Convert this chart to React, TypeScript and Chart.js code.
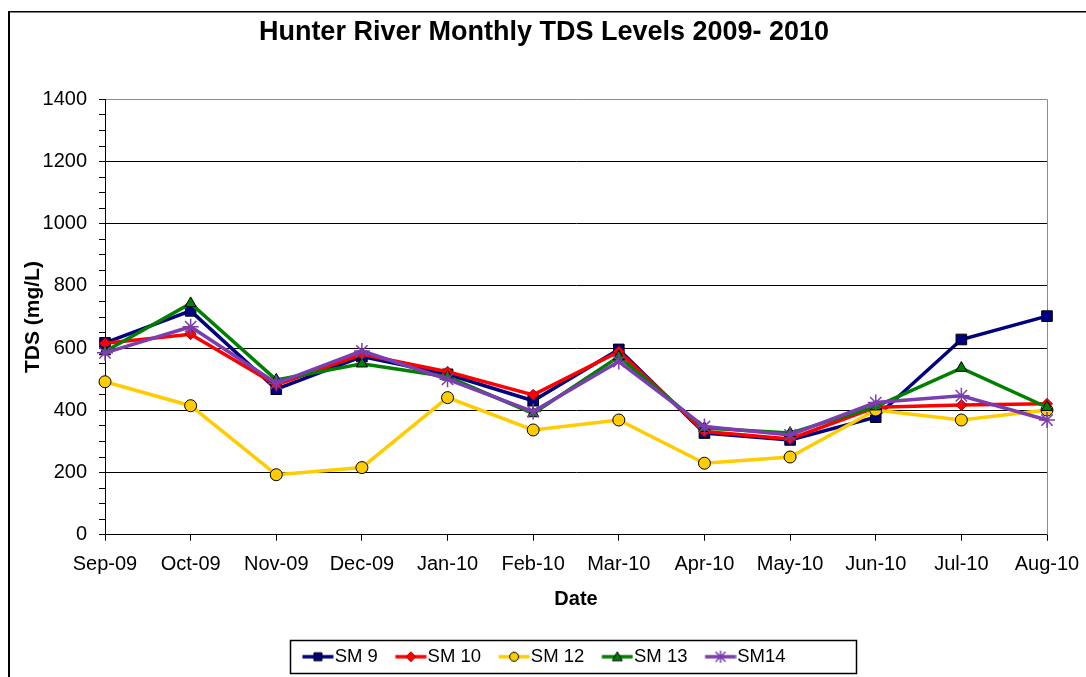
import React, { useEffect, useRef } from 'react';
import { Chart, registerables } from 'chart.js';

Chart.register(...registerables);

const categories = ['Sep-09', 'Oct-09', 'Nov-09', 'Dec-09', 'Jan-10', 'Feb-10', 'Mar-10', 'Apr-10', 'May-10', 'Jun-10', 'Jul-10', 'Aug-10'];
const sm9 = [617, 720, 468, 573, 516, 431, 596, 327, 305, 378, 628, 703];
const sm10 = [616, 645, 482, 580, 524, 450, 589, 332, 308, 410, 417, 421];
const sm12 = [492, 415, 193, 216, 441, 337, 369, 230, 250, 401, 369, 401];
const sm13 = [589, 744, 498, 550, 508, 390, 573, 343, 327, 412, 536, 410];
const sm14 = [585, 669, 487, 591, 500, 396, 557, 348, 321, 425, 447, 369];
const seriesNames = ['SM 9', 'SM 10', 'SM 12', 'SM 13', 'SM14'];

const yMin = 0;
const yMax = 1400;
const yMajorStep = 200;
const yMinorStep = 50;

const chartTitle = 'Hunter River Monthly TDS Levels 2009- 2010';
const yTitle = 'TDS (mg/L)';
const xTitle = 'Date';

const FONT = "'Liberation Sans', Arial, sans-serif";

type Kind = 'rect' | 'rectRot' | 'circle' | 'triangle' | 'star';

function makeIcon(kind: Kind, color: string, fill: string, stroke: string): HTMLCanvasElement {
  const c = document.createElement('canvas');
  c.width = 40;
  c.height = 16;
  const g = c.getContext('2d')!;
  g.strokeStyle = color;
  g.lineWidth = 3.5;
  g.beginPath();
  g.moveTo(8.5, 8);
  g.lineTo(39.5, 8);
  g.stroke();
  const cx = 24;
  const cy = 8;
  g.fillStyle = fill;
  g.strokeStyle = stroke;
  g.lineWidth = 1;
  g.beginPath();
  if (kind === 'rect') {
    g.rect(cx - 4, cy - 4, 8, 8);
    g.fill();
    g.stroke();
  } else if (kind === 'rectRot') {
    g.moveTo(cx - 5, cy);
    g.lineTo(cx, cy - 5);
    g.lineTo(cx + 5, cy);
    g.lineTo(cx, cy + 5);
    g.closePath();
    g.fill();
    g.stroke();
  } else if (kind === 'circle') {
    g.arc(cx, cy, 4.5, 0, Math.PI * 2);
    g.fill();
    g.stroke();
  } else if (kind === 'triangle') {
    g.moveTo(cx, cy - 5);
    g.lineTo(cx + 5, cy + 4);
    g.lineTo(cx - 5, cy + 4);
    g.closePath();
    g.fill();
    g.stroke();
  } else {
    g.lineWidth = 1.5;
    g.moveTo(cx, cy - 6);
    g.lineTo(cx, cy + 6);
    g.moveTo(cx - 5, cy - 5);
    g.lineTo(cx + 5, cy + 5);
    g.moveTo(cx + 5, cy - 5);
    g.lineTo(cx - 5, cy + 5);
    g.stroke();
  }
  return c;
}

const framePlugin = {
  id: 'frame',
  beforeDraw(chart: any) {
    const ctx = chart.ctx;
    ctx.save();
    ctx.fillStyle = '#000';
    ctx.fillRect(0, 3, 2, chart.height);
    ctx.fillRect(0, 3, chart.width, 1.5);
    ctx.restore();
  },
};

const plotBorderPlugin = {
  id: 'plotBorder',
  beforeDatasetsDraw(chart: any) {
    const { ctx, chartArea } = chart;
    ctx.save();
    ctx.strokeStyle = '#8c8c8c';
    ctx.lineWidth = 1;
    ctx.beginPath();
    const x = Math.round(chartArea.right) + 0.5;
    ctx.moveTo(x, chartArea.top);
    ctx.lineTo(x, chartArea.bottom);
    ctx.stroke();
    ctx.restore();
  },
};

const legendBoxPlugin = {
  id: 'legendBox',
  afterDraw(chart: any) {
    const hb = chart.legend && chart.legend.legendHitBoxes;
    if (!hb || !hb.length) return;
    const first = hb[0];
    const last = hb[hb.length - 1];
    const left = Math.round(first.left - 12) + 0.5;
    const right = Math.round(last.left + last.width + 70) + 0.5;
    const cy = first.top + first.height / 2;
    const top = Math.round(cy - 16.5) + 0.5;
    const ctx = chart.ctx;
    ctx.save();
    ctx.strokeStyle = '#000';
    ctx.lineWidth = 1.5;
    ctx.strokeRect(left, top, right - left, 33);
    ctx.restore();
  },
};

export default function App() {
  const ref = useRef<HTMLCanvasElement>(null);

  useEffect(() => {
    const canvas = ref.current;
    if (!canvas) return;
    const icons = [
      makeIcon('rect', '#000080', '#000080', '#000000'),
      makeIcon('rectRot', '#FF0000', '#FF0000', '#B00000'),
      makeIcon('circle', '#FFCC00', '#FFCC00', '#000000'),
      makeIcon('triangle', '#008000', '#008000', '#000000'),
      makeIcon('star', '#7B3DAF', '#7B3DAF', '#7B3DAF'),
    ];
    const common = {
      borderWidth: 3.5,
      tension: 0,
      pointBorderWidth: 1,
      pointHoverRadius: 0,
      fill: false,
    };
    const chart = new Chart(canvas, {
      type: 'line',
      data: {
        labels: categories,
        datasets: [
          { ...common, label: seriesNames[0], data: sm9, borderColor: '#000080', backgroundColor: '#000080', pointStyle: 'rect', pointRadius: 7.5, pointBackgroundColor: '#000080', pointBorderColor: '#000000', order: 5 },
          { ...common, label: seriesNames[1], data: sm10, borderColor: '#FF0000', backgroundColor: '#FF0000', pointStyle: 'rectRot', pointRadius: 5.5, pointBackgroundColor: '#FF0000', pointBorderColor: '#B00000', order: 4 },
          { ...common, label: seriesNames[2], data: sm12, borderColor: '#FFCC00', backgroundColor: '#FFCC00', pointStyle: 'circle', pointRadius: 6, pointBackgroundColor: '#FFCC00', pointBorderColor: '#000000', order: 3 },
          { ...common, label: seriesNames[3], data: sm13, borderColor: '#008000', backgroundColor: '#008000', pointStyle: 'triangle', pointRadius: 6.5, pointBackgroundColor: '#008000', pointBorderColor: '#000000', order: 2 },
          { ...common, label: seriesNames[4], data: sm14, borderColor: '#7B3DAF', backgroundColor: '#7B3DAF', pointStyle: 'star', pointRadius: 8, pointBackgroundColor: '#7B3DAF', pointBorderColor: '#7B3DAF', pointBorderWidth: 1.5, order: 1 },
        ],
      },
      options: {
        responsive: false,
        animation: false,
        devicePixelRatio: 1,
        events: [],
        layout: { padding: { left: 0, right: 6, top: 0, bottom: 1 } },
        plugins: {
          title: {
            display: true,
            text: chartTitle,
            color: '#000',
            font: { family: FONT, size: 27, weight: 'bold', lineHeight: 1.2 },
            padding: { top: 8, bottom: 51 },
          },
          legend: {
            display: true,
            position: 'bottom',
            labels: {
              usePointStyle: true,
              pointStyleWidth: 23,
              padding: 17.5,
              color: '#000',
              font: { family: FONT, size: 18.5 },
              sort: (a: any, b: any) => a.datasetIndex - b.datasetIndex,
              generateLabels: (ch: any) => {
                const items = (Chart.defaults.plugins.legend.labels as any).generateLabels(ch);
                return items.map((it: any) => ({ ...it, pointStyle: icons[it.datasetIndex], lineWidth: 0, fontColor: '#000' }));
              },
            },
          },
          tooltip: { enabled: false },
        },
        scales: {
          x: {
            type: 'category',
            offset: false,
            afterFit: (s: any) => { s.height = 95.25; s.paddingRight = 0; s.paddingLeft = 0; },
            grid: { drawOnChartArea: false, drawTicks: true, tickLength: 6, tickColor: '#000', color: '#000' },
            border: { display: true, color: '#000', width: 1 },
            ticks: { color: '#000', padding: 12, autoSkip: false, maxRotation: 0, font: { family: FONT, size: 20 } },
            title: { display: true, text: xTitle, color: '#000', font: { family: FONT, size: 20, weight: 'bold', lineHeight: 1.2 }, padding: { top: 0, bottom: 18.8 } },
          },
          y: {
            type: 'linear',
            position: 'left',
            min: yMin,
            max: yMax,
            afterFit: (s: any) => { s.width = 97; },
            grid: {
              drawTicks: true,
              tickLength: 6,
              tickColor: '#000',
              color: (c: any) => {
                const v = c.tick ? c.tick.value : 0;
                if (v === yMax) return '#8c8c8c';
                return v % yMajorStep === 0 ? '#000' : 'rgba(0,0,0,0)';
              },
            },
            border: { display: true, color: '#000', width: 1 },
            ticks: {
              stepSize: yMinorStep,
              autoSkip: false,
              color: '#000',
              padding: 12,
              font: { family: FONT, size: 20 },
              callback: (v: any) => (Number(v) % yMajorStep === 0 ? String(v) : ''),
            },
            title: { display: true, text: yTitle, color: '#000', font: { family: FONT, size: 21, weight: 'bold', lineHeight: 1.2 }, padding: { top: 13, bottom: 0 } },
          },
          y2: {
            type: 'linear',
            position: 'right',
            display: true,
            afterFit: (s: any) => { s.width = 33; },
            grid: { display: false },
            border: { display: false },
            ticks: { display: false },
          },
        },
      } as any,
      plugins: [framePlugin, plotBorderPlugin, legendBoxPlugin],
    });
    return () => chart.destroy();
  }, []);

  return (
    <div style={{ position: 'fixed', left: 8, top: 8, width: 1078, height: 669, background: '#fff' }}>
      <canvas ref={ref} width={1078} height={669} style={{ display: 'block' }} />
    </div>
  );
}
